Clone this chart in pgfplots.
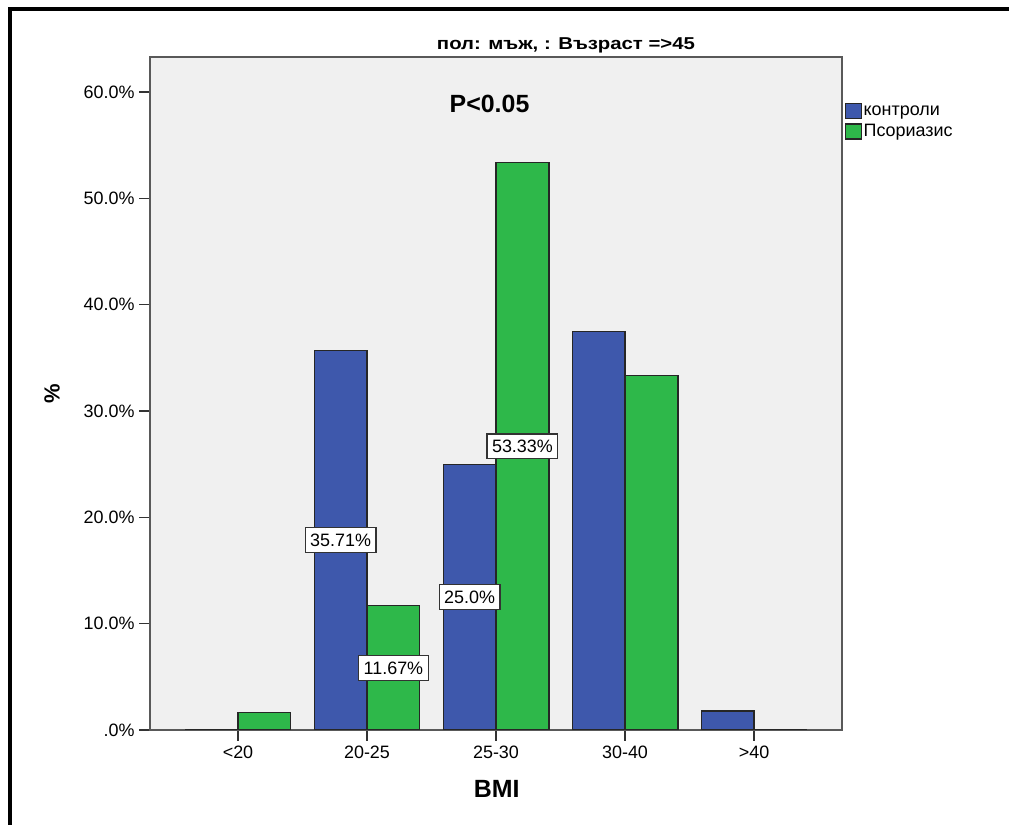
\documentclass[border=0pt]{standalone}
\usepackage{pgfplots}
\pgfplotsset{compat=1.18}
\usepackage{fontspec}
\setmainfont{Liberation Sans}
\usepackage{graphicx}
\definecolor{cblue}{RGB}{62,88,172}
\definecolor{cgreen}{RGB}{46,184,74}
\definecolor{bgray}{RGB}{240,240,240}
\newcommand{\fs}[1]{\fontsize{#1}{#1}\selectfont}
\begin{document}
\begin{tikzpicture}[x=1bp,y=1bp]
\useasboundingbox (0,0) rectangle (1009,825);
\draw[line width=4bp,black] (10,0) -- (10,816) -- (1009,816);
\begin{axis}[
  at={(150bp,95bp)}, anchor=south west,
  scale only axis, width=692bp, height=673bp,
  axis background/.style={fill=bgray},
  axis line style={draw=black!65,line width=1.6bp},
  ymin=0, ymax=63.29,
  xmin=-0.682, xmax=4.682,
  ybar=0pt, bar width=0.41,
  xtick={0,1,2,3,4},
  xticklabels={<20,20-25,25-30,30-40,>40},
  ytick={0,10,20,30,40,50,60},
  yticklabels={.0\%,10.0\%,20.0\%,30.0\%,40.0\%,50.0\%,60.0\%},
  tick align=outside, major tick length=11bp,
  tick style={draw=black!80,line width=1.3bp},
  xtick pos=bottom, ytick pos=left,
  ticklabel style={font=\fs{18}},
  yticklabel style={xshift=-1bp},
  xticklabel style={yshift=-1bp},
  xlabel={\textbf{BMI}}, xlabel style={font=\fs{25},at={(rel axis cs:0.501,-0.0877)},anchor=center},
  ylabel={\textbf{\%}}, ylabel style={font=\fs{22},at={(rel axis cs:-0.1416,0.5)},anchor=center},
  legend style={at={(rel axis cs:1.004,0.932)}, anchor=north west, draw=none, fill=none,
    font=\fs{18}, row sep=4bp, inner sep=0pt, nodes={inner sep=1.5bp}},
  legend cell align=left,
  legend image code/.code={\draw[#1,draw=black!85,line width=1.2bp] (0bp,-7.5bp) rectangle (16bp,7.5bp);},
]
\addplot[fill=cblue, draw=black!85, line width=1.2bp] coordinates {(0,0) (1,35.71) (2,25.0) (3,37.5) (4,1.79)};
\addplot[fill=cgreen, draw=black!85, line width=1.2bp] coordinates {(0,1.67) (1,11.67) (2,53.33) (3,33.33) (4,0)};
\legend{контроли,Псориазис}
\tikzset{vl/.style={draw=black!80,fill=white,inner xsep=5bp,inner ysep=6bp,line width=1.2bp,font=\fs{18}}}
\node[vl] at (axis cs:0.795,17.85) {35.71\%};
\node[vl] at (axis cs:1.205,5.83) {11.67\%};
\node[vl] at (axis cs:1.795,12.5) {25.0\%};
\node[vl] at (axis cs:2.205,26.67) {53.33\%};
\node[font=\fs{25}\bfseries] at (axis cs:1.95,58.9) {P<0.05};
\end{axis}
\node at (566,780) {\resizebox{258bp}{11.8bp}{\bfseries пол: мъж, : Възраст =>45}};
\end{tikzpicture}
\end{document}
